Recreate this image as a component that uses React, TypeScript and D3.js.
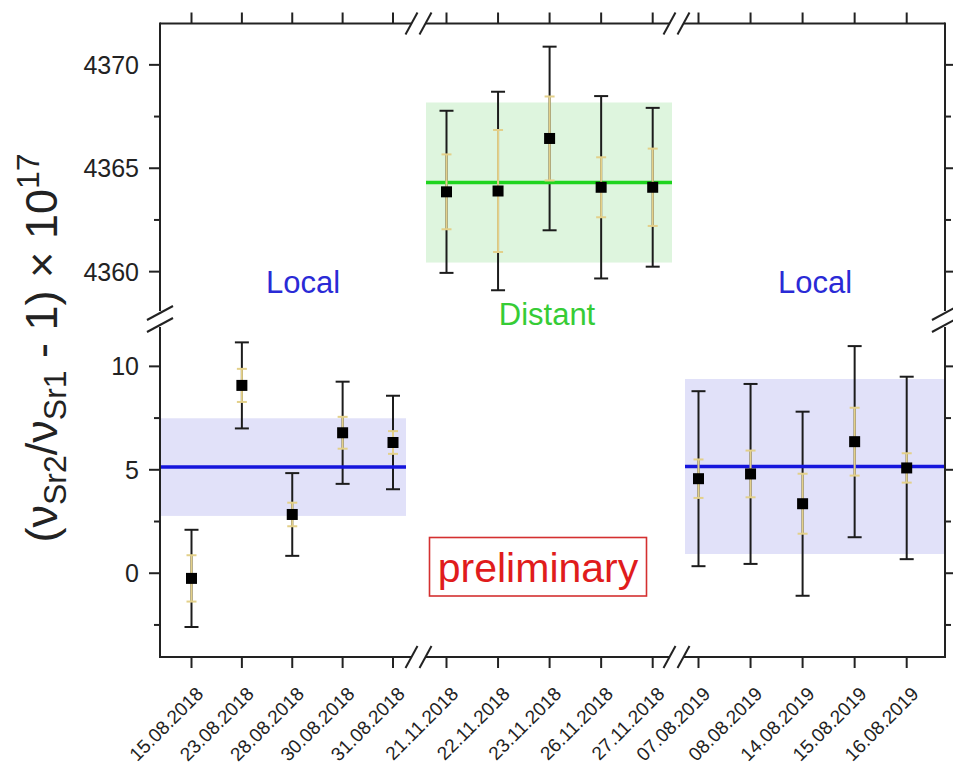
import React from "react";
import * as d3 from "d3";

// ---------- data ----------
const local2018Dates = ["15.08.2018", "23.08.2018", "28.08.2018", "30.08.2018", "31.08.2018"];
const local2018Values = [-0.25, 9.08, 2.84, 6.79, 6.32];
const local2018TotalErr = [2.35, 2.08, 2.0, 2.47, 2.26];
const local2018StatErr = [1.12, 0.8, 0.57, 0.77, 0.55];

const distantDates = ["21.11.2018", "22.11.2018", "23.11.2018", "26.11.2018", "27.11.2018"];
const distantValues = [4363.86, 4363.9, 4366.44, 4364.08, 4364.08];
const distantTotalErr = [3.92, 4.8, 4.44, 4.41, 3.84];
const distantStatErr = [1.81, 2.95, 2.03, 1.45, 1.87];

const local2019Dates = ["07.08.2019", "08.08.2019", "14.08.2019", "15.08.2019", "16.08.2019"];
const local2019Values = [4.57, 4.8, 3.36, 6.36, 5.09];
const local2019TotalErr = [4.23, 4.35, 4.45, 4.62, 4.41];
const local2019StatErr = [0.93, 1.13, 1.45, 1.64, 0.71];

const groupMeans = [5.13, 4364.31, 5.16];
const groupMeanErr = [2.36, 3.87, 4.23];
const groupLabels = ["Local", "Distant", "Local"];

const upperTicks = [4360, 4365, 4370];
const upperMinorTicks = [4362.5, 4367.5];
const lowerTicks = [0, 5, 10];
const lowerMinorTicks = [-2.5, 2.5, 7.5];

// ---------- layout ----------
const W = 953;
const H = 769;
const L = 160;
const R = 945;
const T = 23.5;
const B = 657;
const breakUpper = 313;
const breakLower = 325;
const xBreaks = [418.5, 676.5];

const yUpper = d3.scaleLinear().domain([4358, 4372]).range([breakUpper, T]);
const yLower = d3.scaleLinear().domain([-4.05, 12]).range([B, breakLower]);

const xGroups = [
  d3.scaleLinear().domain([0, 4]).range([191.5, 393]),
  d3.scaleLinear().domain([0, 4]).range([446.5, 652.7]),
  d3.scaleLinear().domain([0, 4]).range([698.5, 906.7]),
];

const groups = [
  {
    dates: local2018Dates, values: local2018Values, total: local2018TotalErr, stat: local2018StatErr,
    y: yLower, band: "#e1e1f9", line: "#1515dc", labelColor: "#2a2ad6",
    bandX: [L, 406], labelX: 303, labelY: 293,
  },
  {
    dates: distantDates, values: distantValues, total: distantTotalErr, stat: distantStatErr,
    y: yUpper, band: "#def5de", line: "#1ed41e", labelColor: "#36cc36",
    bandX: [426, 672], labelX: 547, labelY: 325,
  },
  {
    dates: local2019Dates, values: local2019Values, total: local2019TotalErr, stat: local2019StatErr,
    y: yLower, band: "#e1e1f9", line: "#1515dc", labelColor: "#2a2ad6",
    bandX: [685, R], labelX: 815, labelY: 293,
  },
];

const FONT = "'Liberation Sans', Arial, sans-serif";
const AX = "#222";

function Slash({ x, y, dx, dy }: { x: number; y: number; dx: number; dy: number }) {
  return <line x1={x - dx} y1={y + dy} x2={x + dx} y2={y - dy} stroke={AX} strokeWidth={2} />;
}

export default function App() {
  const allX: number[] = [];
  xGroups.forEach((s) => [0, 1, 2, 3, 4].forEach((i) => allX.push(s(i))));
  const allDates = [...local2018Dates, ...distantDates, ...local2019Dates];

  const xSegs = [
    [L, xBreaks[0] - 7],
    [xBreaks[0] + 7, xBreaks[1] - 7],
    [xBreaks[1] + 7, R],
  ];

  return (
    <svg width={W} height={H} style={{ display: "block", position: "absolute", left: 0, top: 0, background: "#fff" }} fontFamily={FONT}>
      <rect x={0} y={0} width={W} height={H} fill="#fff" />
      {/* bands */}
      {groups.map((g, gi) => (
        <rect key={"band" + gi} x={g.bandX[0]} width={g.bandX[1] - g.bandX[0]}
          y={g.y(groupMeans[gi] + groupMeanErr[gi])}
          height={g.y(groupMeans[gi] - groupMeanErr[gi]) - g.y(groupMeans[gi] + groupMeanErr[gi])}
          fill={g.band} />
      ))}
      {/* total error bars */}
      {groups.map((g, gi) =>
        g.values.map((v, i) => {
          const x = xGroups[gi](i);
          const y1 = g.y(v + g.total[i]);
          const y2 = g.y(v - g.total[i]);
          return (
            <g key={"te" + gi + i} stroke="#1c1c1c" strokeWidth={2}>
              <line x1={x} x2={x} y1={y1} y2={y2} />
              <line x1={x - 7} x2={x + 7} y1={y1} y2={y1} />
              <line x1={x - 7} x2={x + 7} y1={y2} y2={y2} />
            </g>
          );
        })
      )}
      {/* mean lines */}
      {groups.map((g, gi) => (
        <line key={"mean" + gi} x1={g.bandX[0]} x2={g.bandX[1]} y1={g.y(groupMeans[gi])} y2={g.y(groupMeans[gi])}
          stroke={g.line} strokeWidth={3.5} />
      ))}
      {/* stat error bars */}
      {groups.map((g, gi) =>
        g.values.map((v, i) => {
          const x = xGroups[gi](i);
          const y1 = g.y(v + g.stat[i]);
          const y2 = g.y(v - g.stat[i]);
          return (
            <g key={"se" + gi + i} stroke="#e3d08a" strokeWidth={2}>
              <line x1={x} x2={x} y1={y1} y2={y2} />
              <line x1={x - 5} x2={x + 5} y1={y1} y2={y1} />
              <line x1={x - 5} x2={x + 5} y1={y2} y2={y2} />
            </g>
          );
        })
      )}
      {/* points */}
      {groups.map((g, gi) =>
        g.values.map((v, i) => (
          <rect key={"pt" + gi + i} x={xGroups[gi](i) - 5.5} y={g.y(v) - 5.5} width={11} height={11} fill="#000" />
        ))
      )}
      {/* group labels */}
      {groups.map((g, gi) => (
        <text key={"lab" + gi} x={g.labelX} y={g.labelY} textAnchor="middle" fontSize={31} fill={g.labelColor}>
          {groupLabels[gi]}
        </text>
      ))}
      {/* preliminary */}
      <rect x={429.5} y={537.5} width={217} height={58.5} fill="none" stroke="#d43030" strokeWidth={1.6} />
      <text x={538} y={582} textAnchor="middle" fontSize={41} fill="#e01c1c">preliminary</text>

      {/* axes frame */}
      {xSegs.map((s, i) => (
        <g key={"xs" + i} stroke={AX} strokeWidth={2}>
          <line x1={s[0]} x2={s[1]} y1={T} y2={T} />
          <line x1={s[0]} x2={s[1]} y1={B} y2={B} />
        </g>
      ))}
      <g stroke={AX} strokeWidth={2}>
        <line x1={L} x2={L} y1={T - 1} y2={breakUpper - 2} />
        <line x1={L} x2={L} y1={breakLower + 2} y2={B + 1} />
        <line x1={R} x2={R} y1={T - 1} y2={breakUpper - 2} />
        <line x1={R} x2={R} y1={breakLower + 2} y2={B + 1} />
      </g>
      {/* break marks */}
      {xBreaks.map((bx, i) => (
        <g key={"xb" + i}>
          <Slash x={bx - 7} y={T} dx={6} dy={11} />
          <Slash x={bx + 7} y={T} dx={6} dy={11} />
          <Slash x={bx - 7} y={B} dx={6} dy={11} />
          <Slash x={bx + 7} y={B} dx={6} dy={11} />
        </g>
      ))}
      {[L, R].map((ax, i) => (
        <g key={"yb" + i}>
          <Slash x={ax} y={breakUpper} dx={13} dy={7} />
          <Slash x={ax} y={breakLower} dx={13} dy={7} />
        </g>
      ))}
      {/* x ticks */}
      {allX.map((x, i) => (
        <g key={"xt" + i} stroke={AX} strokeWidth={2}>
          <line x1={x} x2={x} y1={T} y2={T - 11} />
          <line x1={x} x2={x} y1={B} y2={B + 11} />
        </g>
      ))}
      {allX.map((x, i) => (
        <text key={"xl" + i} transform={`translate(${x + 13},${695}) rotate(-45)`} textAnchor="end"
          fontSize={19} fill="#222">{allDates[i]}</text>
      ))}
      {/* y ticks */}
      {[
        { s: yUpper, major: upperTicks, minor: upperMinorTicks },
        { s: yLower, major: lowerTicks, minor: lowerMinorTicks },
      ].map((p, pi) => (
        <g key={"yp" + pi}>
          {p.major.map((v) => (
            <g key={"ym" + v}>
              <line x1={L} x2={L - 11} y1={p.s(v)} y2={p.s(v)} stroke={AX} strokeWidth={2} />
              <line x1={R} x2={R + 11} y1={p.s(v)} y2={p.s(v)} stroke={AX} strokeWidth={2} />
              <text x={139} y={p.s(v)} dy="0.36em" textAnchor="end" fontSize={25} fill="#222">{v}</text>
            </g>
          ))}
          {p.minor.map((v) => (
            <g key={"yn" + v} stroke={AX} strokeWidth={2}>
              <line x1={L} x2={L - 6} y1={p.s(v)} y2={p.s(v)} />
              <line x1={R} x2={R + 6} y1={p.s(v)} y2={p.s(v)} />
            </g>
          ))}
        </g>
      ))}
      {/* y title */}
      <text transform="translate(57,348) rotate(-90)" textAnchor="middle" fontSize={45} fill="#222">
        <tspan>(ν</tspan>
        <tspan dy={9} fontSize={32}>Sr2</tspan>
        <tspan dy={-9}>/ν</tspan>
        <tspan dy={9} fontSize={32}>Sr1</tspan>
        <tspan dy={-9}> - 1) × 10</tspan>
        <tspan dy={-18} fontSize={32}>17</tspan>
      </text>
    </svg>
  );
}
